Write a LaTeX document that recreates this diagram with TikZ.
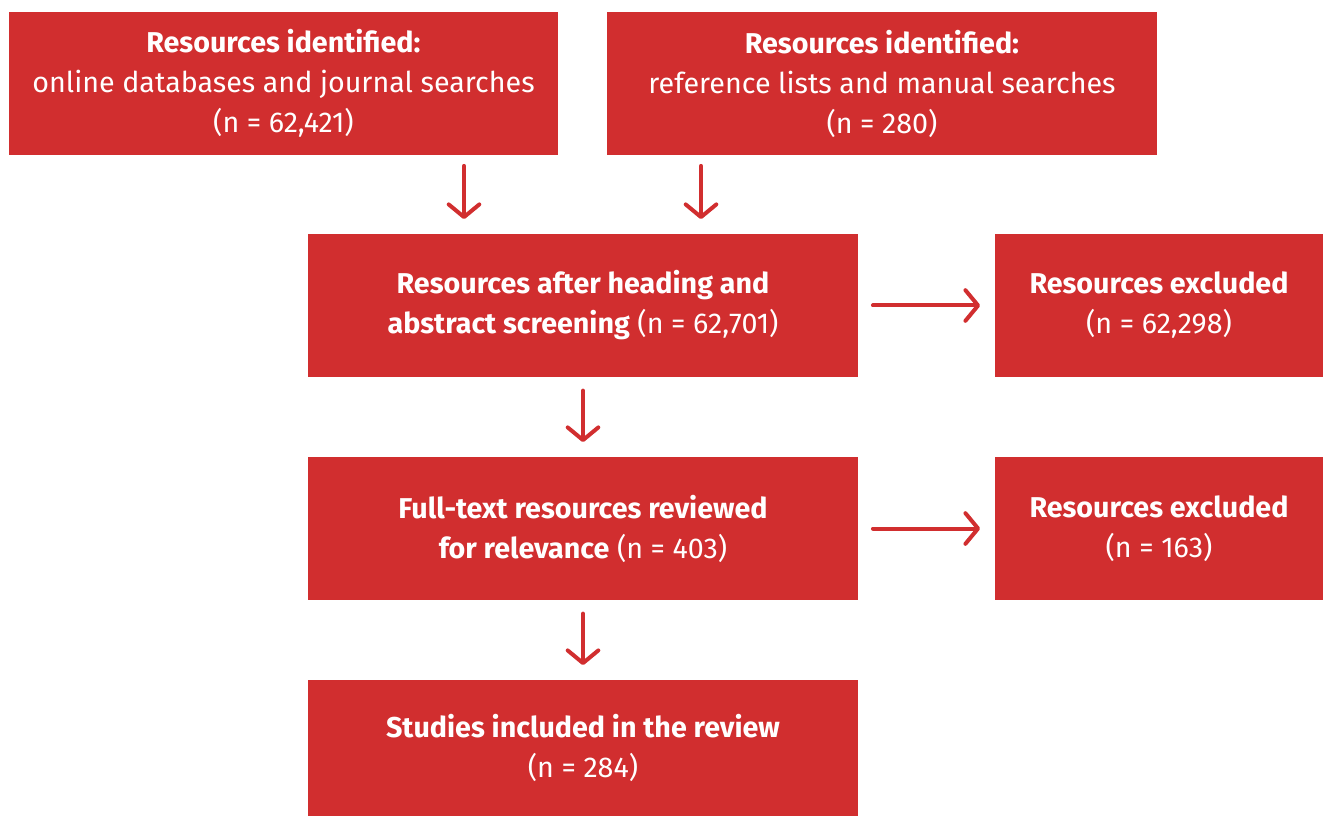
\documentclass[tikz,border=0pt]{standalone}
\usepackage{fontspec}
\setmainfont{Fira Sans}
\usetikzlibrary{arrows.meta}
\definecolor{boxred}{HTML}{D12E2F}
\tikzset{
  box/.style={fill=boxred, text=white, align=center, inner sep=0pt, font=\fontsize{21.5}{30}\selectfont},
  wide/.style={box, minimum width=412.5pt, minimum height=107.25pt},
  narrow/.style={box, minimum width=246pt, minimum height=107.25pt},
  arr/.style={draw=boxred, line width=3pt, line cap=round,
    -{Straight Barb[length=9.5pt, width=23pt, line width=3pt, line cap=round, line join=round]}},
}
\begin{document}
\begin{tikzpicture}[x=0.75pt, y=-0.75pt]
\useasboundingbox (0,0) rectangle (1323,816);
\node[wide, minimum width=411.75pt] (A) at (283.5,83.5) {\textbf{Resources identified:}\\online databases and journal searches\\(n = 62,421)};
\node[wide] (B) at (882,83.5) {\textbf{Resources identified:}\\reference lists and manual searches\\(n = 280)};
\node[wide] (C) at (583,305.5) {\textbf{Resources after heading and}\\\textbf{abstract screening} (n = 62,701)};
\node[narrow] (D) at (1159,305.5) {\textbf{Resources excluded}\\(n = 62,298)};
\node[wide] (E) at (583,528.5) {\textbf{Full-text resources reviewed}\\\textbf{for relevance} (n = 403)};
\node[narrow] (F) at (1159,528.5) {\textbf{Resources excluded}\\(n = 163)};
\node[wide, minimum height=102pt] (G) at (583,748) {\textbf{Studies included in the review}\\(n = 284)};
\coordinate (a1) at (464,0);
\coordinate (a2) at (701,0);
\draw[arr, shorten <=8pt, shorten >=11pt] (A.south -| a1) -- (C.north -| a1);
\draw[arr, shorten <=8pt, shorten >=11pt] (B.south -| a2) -- (C.north -| a2);
\draw[arr, shorten <=11pt, shorten >=11pt] (C.east) -- (D.west);
\draw[arr] ([yshift=-10pt]C.south) -- ([yshift=11pt]E.north);
\draw[arr, shorten <=11pt, shorten >=11pt] (E.east) -- (F.west);
\draw[arr] ([yshift=-10pt]E.south) -- ([yshift=11pt]G.north);
\end{tikzpicture}
\end{document}
